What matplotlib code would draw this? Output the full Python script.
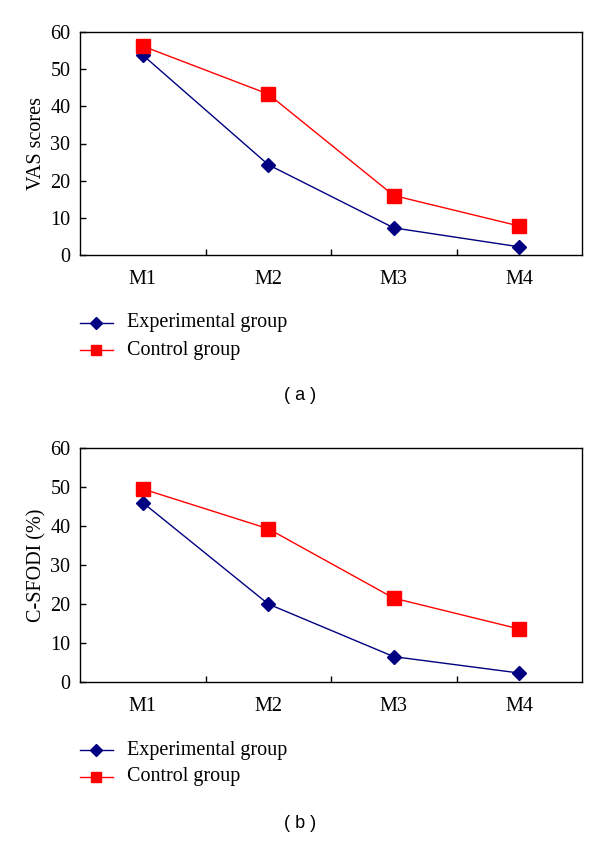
import matplotlib
matplotlib.use("Agg")
import matplotlib.pyplot as plt
import numpy as np

categories = ["M1", "M2", "M3", "M4"]
vas_experimental = [53.8, 24.3, 7.3, 2.2]
vas_control = [56.2, 43.3, 16.0, 7.8]
sfodi_experimental = [46.0, 20.0, 6.5, 2.3]
sfodi_control = [49.5, 39.3, 21.5, 13.6]
yticks = [0, 10, 20, 30, 40, 50, 60]
series_labels = ["Experimental group", "Control group"]

plt.rcParams['font.family'] = ['Liberation Serif', 'DejaVu Serif']

fig = plt.figure(figsize=(6.0, 8.42), dpi=100)

W, H = 600, 842
def axrect(l, t, r, b):
    return [l / W, 1 - b / H, (r - l) / W, (b - t) / H]

FS = 14.5

panels = [
    (axrect(80, 32, 582, 255), vas_experimental, vas_control, "VAS scores", 323, 350, 395, "( a )"),
    (axrect(80, 448, 582, 682), sfodi_experimental, sfodi_control, "C-SFODI (%)", 750, 777, 824, "( b )"),
]

for rect, exp, ctl, ylabel, ly1, ly2, capy, cap in panels:
    ax = fig.add_axes(rect)
    x = np.arange(len(categories))
    ax.plot(x, exp, color="#000080", marker="D", markersize=7.5, linewidth=1.0,
            clip_on=False, zorder=3)
    ax.plot(x, ctl, color="#ff0000", marker="s", markersize=9.5, linewidth=1.0,
            clip_on=False, zorder=3)
    ax.set_xlim(-0.5, len(categories) - 0.5)
    ax.set_ylim(0, 60)
    ax.set_yticks(yticks)
    ax.set_yticklabels([str(v) for v in yticks], fontsize=FS)
    ax.set_xticks(x)
    ax.set_xticklabels(categories, fontsize=FS)
    ax.tick_params(axis='x', which='major', length=0, pad=11)
    ax.set_xticks(np.arange(0.5, len(categories) - 0.5, 1.0), minor=True)
    ax.tick_params(axis='x', which='minor', direction='in', length=4, width=1.0)
    ax.tick_params(axis='y', direction='in', length=4, width=1.0, pad=7)
    for s in ax.spines.values():
        s.set_linewidth(1.0)
    ax.set_ylabel(ylabel, fontsize=FS, labelpad=3)

    # legend drawn manually in figure pixel coords
    for ly, col, mk, ms, lab in [(ly1, "#000080", "D", 6, series_labels[0]),
                                 (ly2, "#ff0000", "s", 7, series_labels[1])]:
        yf = 1 - ly / H
        fig.add_artist(plt.Line2D([80 / W, 113 / W], [yf, yf], color=col, linewidth=1.0,
                                  transform=fig.transFigure))
        fig.add_artist(plt.Line2D([96 / W], [yf], color=col, marker=mk, markersize=ms,
                                  linestyle='none', transform=fig.transFigure))
        fig.text(127 / W, yf, lab, fontsize=FS, va='center', ha='left')

    fig.text(300 / W, 1 - capy / H, cap, fontsize=13, ha='center', va='center',
             family=['Liberation Sans', 'DejaVu Sans'])

fig.savefig("out.png", dpi=100)
